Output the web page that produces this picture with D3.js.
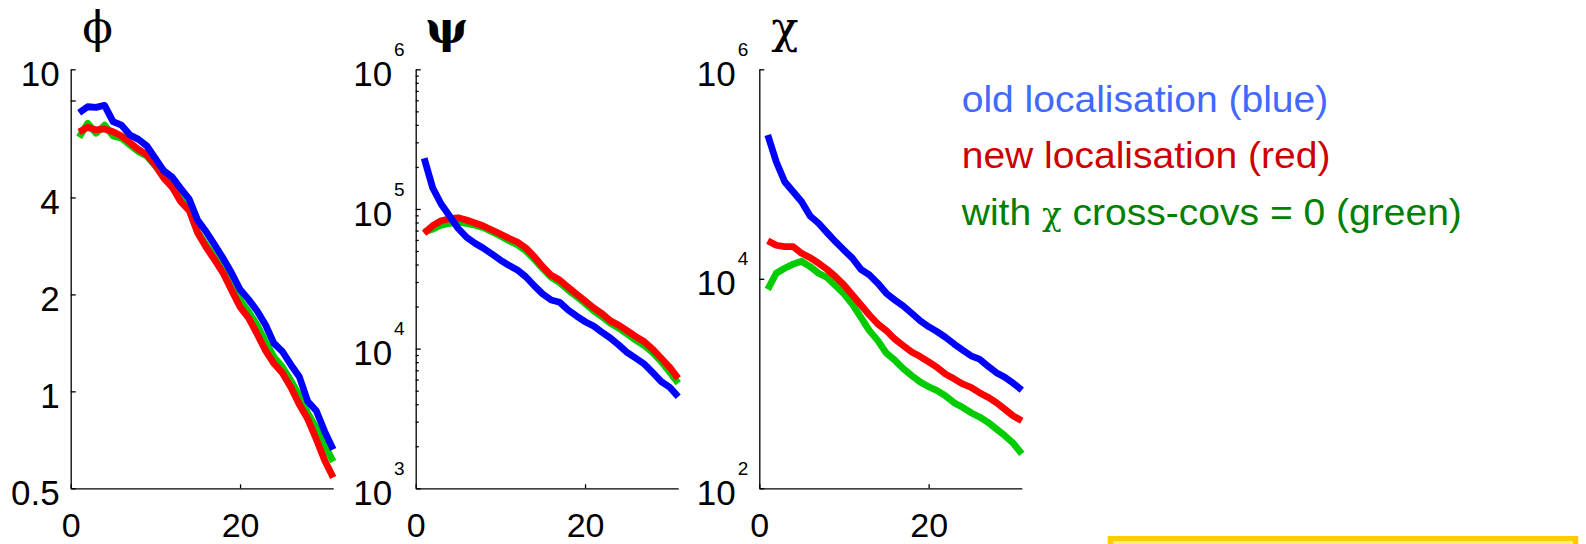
<!DOCTYPE html>
<html>
<head>
<meta charset="utf-8">
<script src="https://cdn.jsdelivr.net/npm/d3@7"></script>
<style>
  html, body { margin: 0; padding: 0; background: #ffffff; }
  svg { display: block; }
  .tick text, .lbl { font-family: "Liberation Sans", Arial, sans-serif; fill: #000; }
</style>
</head>
<body>
<svg id="chart" width="1586" height="544"></svg>
<script>
// Vertical level index shared by all three panels
const levels = [1, 2, 3, 4, 5, 6, 7, 8, 9, 10, 11, 12, 13, 14, 15, 16, 17, 18, 19, 20,
                21, 22, 23, 24, 25, 26, 27, 28, 29, 30, 31];

// phi
const phiOld = [7.33, 7.65, 7.62, 7.73, 6.88, 6.71, 6.25, 6.06, 5.78, 5.29, 4.84, 4.62, 4.26, 3.95, 3.40,
                3.13, 2.85, 2.59, 2.33, 2.07, 1.93, 1.78, 1.61, 1.41, 1.33, 1.21, 1.11, 0.93, 0.87, 0.75, 0.66];
const phiNew = [6.39, 6.61, 6.48, 6.53, 6.40, 6.21, 5.92, 5.64, 5.42, 5.04, 4.59, 4.30, 3.88, 3.64, 3.10,
                2.80, 2.56, 2.33, 2.06, 1.83, 1.69, 1.51, 1.34, 1.22, 1.14, 1.03, 0.91, 0.82, 0.71, 0.61, 0.54];
const phiNoCross = [6.15, 6.80, 6.33, 6.71, 6.21, 6.11, 5.82, 5.55, 5.38, 5.01, 4.62, 4.32, 3.95, 3.67, 3.13,
                    2.85, 2.62, 2.38, 2.14, 1.92, 1.77, 1.61, 1.43, 1.28, 1.19, 1.08, 0.97, 0.855, 0.77, 0.68, 0.605];

// psi
const psiOld = [230700, 141900, 108500, 89100, 72800, 62700, 56800, 52300, 47600, 43100, 39500, 36600, 32700,
                28200, 24600, 22300, 21500, 18900, 17100, 15600, 14500, 13100, 11900, 10600, 9350, 8530, 7760,
                6730, 5800, 5290, 4530];
const psiNew = [66900, 75900, 82400, 85200, 86500, 83300, 79400, 75500, 70700, 66200, 61700, 58000, 52600,
                45500, 38600, 33500, 31000, 27500, 24600, 22000, 19600, 17800, 15800, 14700, 13400, 12200, 11200,
                9890, 8530, 7350, 6130];
const psiNoCross = [68700, 71500, 76700, 78900, 80700, 78900, 76400, 73500, 68700, 64100, 59300, 55500, 50200,
                    43600, 37400, 32400, 29700, 26300, 23600, 21100, 18700, 16900, 15200, 14000, 12700, 11500,
                    10500, 9350, 8070, 6780, 5650];

// chi
const chiOld = [236000, 131000, 84500, 67800, 54400, 39800, 33900, 27600, 22600, 18800, 15700, 12300, 10900,
                9060, 7270, 6280, 5500, 4690, 3980, 3490, 3130, 2760, 2390, 2090, 1840, 1710, 1470, 1270, 1150,
                1005, 867];
const chiNew = [23100, 20900, 20300, 20300, 17500, 15900, 14100, 12300, 10500, 8730, 7000, 5620, 4510, 3700,
                3200, 2660, 2300, 2000, 1810, 1610, 1430, 1230, 1110, 991, 921, 818, 741, 657, 568, 490, 442];
const chiNoCross = [7940, 11300, 12600, 13800, 14700, 13100, 11300, 10300, 8600, 7170, 5710, 4290, 3200, 2570,
                    1950, 1670, 1390, 1190, 1035, 933, 855, 761, 657, 593, 527, 480, 427, 368, 318, 269, 213];

// axis ticks
const xTicks = [0, 20];
const phiTicks = [0.5, 1, 2, 4, 8, 10];
const phiTickLabels = ["0.5", "1", "2", "4", "", "10"];
const psiDecades = [3, 4, 5, 6];
const chiDecades = [2, 4, 6];

// legend
const legendLines = [
  { parts: ["old localisation (blue)"], color: "#4169ff" },
  { parts: ["new localisation (red)"], color: "#cc0000" },
  { parts: ["with ", "χ", " cross-covs = 0 (green)"], color: "#008000" }
];

const lineColors = { old: "#0000ff", nw: "#ff0000", nc: "#00cc00" };

const svg = d3.select("#chart");
const plotTop = 69.3, plotBottom = 488.3, plotW = 262.5;
const labelSize = 35;

const panels = [
  { left: 70.7, title: "ϕ", titleX: 97.5, titleSize: 45, titleWeight: "normal", domain: [0.5, 10],
    series: [phiNoCross, phiNew, phiOld], kind: "phi" },
  { left: 415.7, title: "ψ", titleX: 446.7, titleSize: 45, titleWeight: "bold", domain: [1e3, 1e6],
    series: [psiNoCross, psiNew, psiOld], kind: "psi" },
  { left: 759.3, title: "χ", titleX: 785, titleSize: 45, titleWeight: "normal", domain: [1e2, 1e6],
    series: [chiNoCross, chiNew, chiOld], kind: "chi" }
];
const seriesColors = [lineColors.nc, lineColors.nw, lineColors.old];

panels.forEach(p => {
  const g = svg.append("g").attr("transform", `translate(${p.left},0)`);
  const x = d3.scaleLinear().domain([0, 31]).range([0, plotW]);
  const y = d3.scaleLog().domain(p.domain).range([plotBottom, plotTop]);

  // curves
  const line = d3.line().x((d, i) => x(levels[i])).y(d => y(d));
  p.series.forEach((s, k) => {
    g.append("path")
      .datum(s)
      .attr("d", line)
      .attr("fill", "none")
      .attr("stroke", seriesColors[k])
      .attr("stroke-width", 6.8)
      .attr("stroke-linejoin", "round")
      .attr("stroke-linecap", "butt");
  });

  // x axis
  const xa = g.append("g").attr("transform", `translate(0,${plotBottom})`)
    .call(d3.axisBottom(x).tickValues(xTicks).tickSize(-4).tickSizeOuter(0).tickPadding(24.5)
      .tickFormat(d3.format("d")));
  xa.selectAll("text").attr("font-size", 34).attr("dy", "0.71em");

  // y axis
  let yTicks, yFmt;
  if (p.kind === "phi") {
    yTicks = phiTicks;
    yFmt = (d, i) => phiTickLabels[i];
  } else {
    const decs = p.kind === "psi" ? psiDecades : chiDecades;
    yTicks = decs.map(e => Math.pow(10, e));
    yFmt = () => "";
  }
  const ya = g.append("g")
    .call(d3.axisLeft(y).tickValues(yTicks).tickSize(-5).tickSizeOuter(0).tickPadding(11).tickFormat(yFmt));
  ya.selectAll("text").attr("font-size", labelSize).attr("dy", "0.46em");

  if (p.kind !== "phi") {
    // power-of-ten labels, exponent raised well above the mantissa
    const decs = p.kind === "psi" ? psiDecades : chiDecades;
    ya.selectAll(".tick text").each(function(d, i) {
      const t = d3.select(this).text(null);
      t.append("tspan").text("10");
      t.append("tspan").attr("font-size", 19).attr("dy", -30).attr("dx", 2).text(decs[i]);
    });
  }
  if (p.kind === "psi") {
    const minor = [];
    psiDecades.slice(0, -1).forEach(e => {
      for (let m = 2; m <= 9; m++) minor.push(m * Math.pow(10, e));
    });
    g.append("g")
      .call(d3.axisLeft(y).tickValues(minor).tickSize(-3).tickSizeOuter(0).tickFormat(""))
      .select(".domain").remove();
  }
  g.selectAll(".domain, .tick line").attr("stroke", "#000").attr("stroke-width", 1.3);

  // panel title
  svg.append("text")
    .attr("x", p.titleX).attr("y", 43)
    .attr("text-anchor", "middle")
    .attr("font-family", "'DejaVu Serif', 'Liberation Serif', serif")
    .attr("font-size", p.titleSize)
    .attr("font-weight", p.titleWeight)
    .text(p.title);
});

// legend text block
const lg = svg.append("g").attr("transform", "translate(961.7,0) scale(1.055,1)");
legendLines.forEach((ln, i) => {
  const t = lg.append("text")
    .attr("class", "lbl")
    .attr("x", 0).attr("y", 111.7 + i * 56.65)
    .attr("font-size", 37)
    .style("fill", ln.color);
  ln.parts.forEach(part => {
    const ts = t.append("tspan").text(part);
    if (part === "χ") ts.attr("font-family", "'DejaVu Serif', 'Liberation Serif', serif").attr("font-size", 31);
  });
});

// highlighted box along the bottom edge
svg.append("rect").attr("x", 1107.7).attr("y", 536).attr("width", 470.6).attr("height", 20)
  .attr("fill", "#ffcc00");
svg.append("rect").attr("x", 1113.3).attr("y", 541).attr("width", 459.5).attr("height", 20)
  .attr("fill", "#fff170");
</script>
</body>
</html>
